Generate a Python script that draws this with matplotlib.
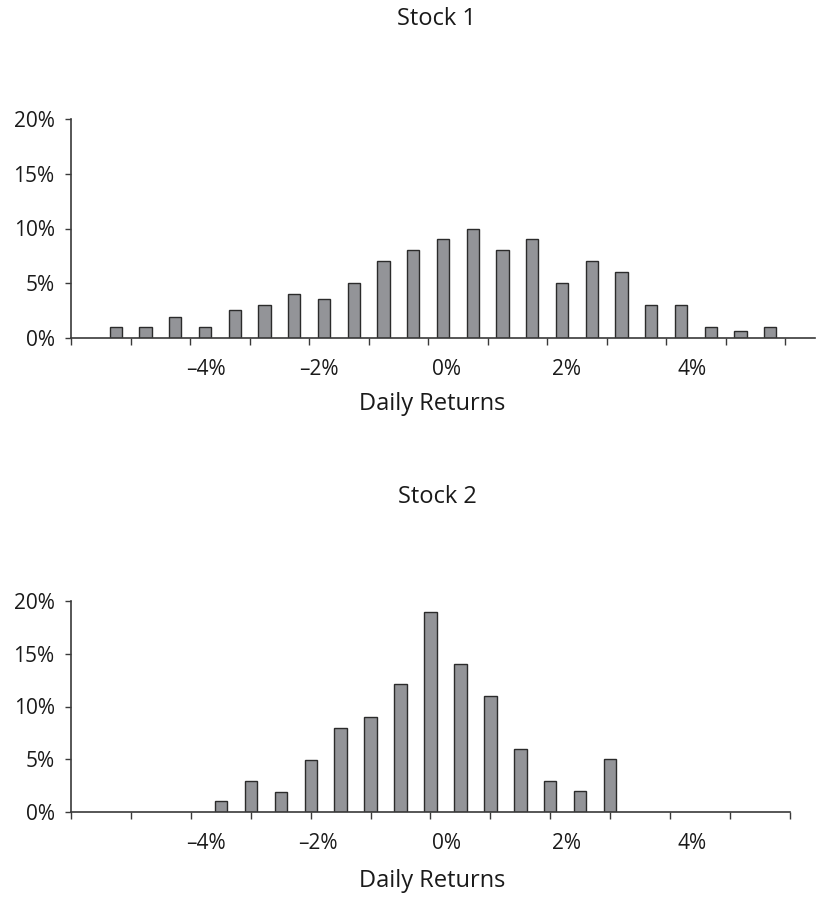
import matplotlib
matplotlib.use('Agg')
import matplotlib.pyplot as plt
from matplotlib.ticker import FixedLocator

plt.rcParams['font.family'] = ['Open Sans', 'DejaVu Sans']

# ---- data ----
stock1_returns = [-5.75, -5.25, -4.75, -4.25, -3.75, -3.25, -2.75, -2.25, -1.75, -1.25,
                  -0.75, -0.25, 0.25, 0.75, 1.25, 1.75, 2.25, 2.75, 3.25, 3.75,
                  4.25, 4.75, 5.25]
stock1_freq = [1, 1, 1.9, 1, 2.5, 3, 4, 3.5, 5, 7, 8, 9, 10, 8, 9, 5, 7, 6, 3, 3, 1, 0.6, 1]

stock2_returns = [-3.5, -3.0, -2.5, -2.0, -1.5, -1.0, -0.5, 0.0, 0.5, 1.0, 1.5, 2.0, 2.5, 3.0]
stock2_freq = [1.1, 3, 1.9, 4.9, 8, 9, 12.1, 18.9, 14, 11, 6, 3, 2, 5]

x_labels = ['\u20134%', '\u20132%', '0%', '2%', '4%']
y_ticks = [0, 5, 10, 15, 20]
y_labels = ['0%', '5%', '10%', '15%', '20%']
titles = ['Stock 1', 'Stock 2']
xlabel = 'Daily Returns'

# ---- layout (pixels) ----
W, H = 817, 906
fig = plt.figure(figsize=(W / 100, H / 100), dpi=100)


def px_axes(x0, x1, ytop, ybot):
    return fig.add_axes([x0 / W, 1 - ybot / H, (x1 - x0) / W, (ybot - ytop) / H])


ax1 = px_axes(71, 815, 119.3, 337.7)
ax2 = px_axes(71, 790, 600.7, 812.3)

bar_color = '#939498'
edge_color = '#2b2b2b'
axis_color = '#3a3a3a'
text_color = '#1a1a1a'

configs = [
    (ax1, stock1_returns, stock1_freq, (-6.5, 6.0),
     [-6.5 + i for i in range(13)], [-4.23, -2.33, -0.19, 1.82, 3.94]),
    (ax2, stock2_returns, stock2_freq, (-6.0, 6.0),
     [-6 + i for i in range(13)], [-3.75, -1.88, 0.27, 2.27, 4.36]),
]

for ax, xs, ys, xlim, minor_pos, label_pos in configs:
    ax.bar(xs, ys, width=0.205, color=bar_color, edgecolor=edge_color, linewidth=1.0, zorder=3)
    ax.set_xlim(*xlim)
    ax.set_ylim(0, 20)
    for s in ['top', 'right']:
        ax.spines[s].set_visible(False)
    for s in ['left', 'bottom']:
        ax.spines[s].set_color(axis_color)
        ax.spines[s].set_linewidth(1.2)
        ax.spines[s].set_zorder(4)
    ax.set_yticks(y_ticks)
    ax.set_yticklabels(y_labels)
    ax.tick_params(axis='y', direction='out', length=4.5, width=1.0, color=axis_color,
                   pad=7.3, labelsize=15, labelcolor=text_color)
    ax.xaxis.set_major_locator(FixedLocator(label_pos))
    ax.set_xticklabels(x_labels)
    ax.xaxis.set_minor_locator(FixedLocator(minor_pos))
    ax.tick_params(axis='x', which='major', length=0, pad=15, labelsize=15, labelcolor=text_color)
    ax.tick_params(axis='x', which='minor', direction='out', length=5, width=1.0, color=axis_color)
    ax.set_facecolor('none')

fig.text(437 / W, 1 - 25 / H, titles[0], ha='center', va='baseline', fontsize=17, color=text_color)
fig.text(437 / W, 1 - 503 / H, titles[1], ha='center', va='baseline', fontsize=17, color=text_color)
fig.text(432 / W, 1 - 410 / H, xlabel, ha='center', va='baseline', fontsize=17, color=text_color)
fig.text(432 / W, 1 - 886.7 / H, xlabel, ha='center', va='baseline', fontsize=17, color=text_color)

fig.savefig('out.png', dpi=100, facecolor='white')
